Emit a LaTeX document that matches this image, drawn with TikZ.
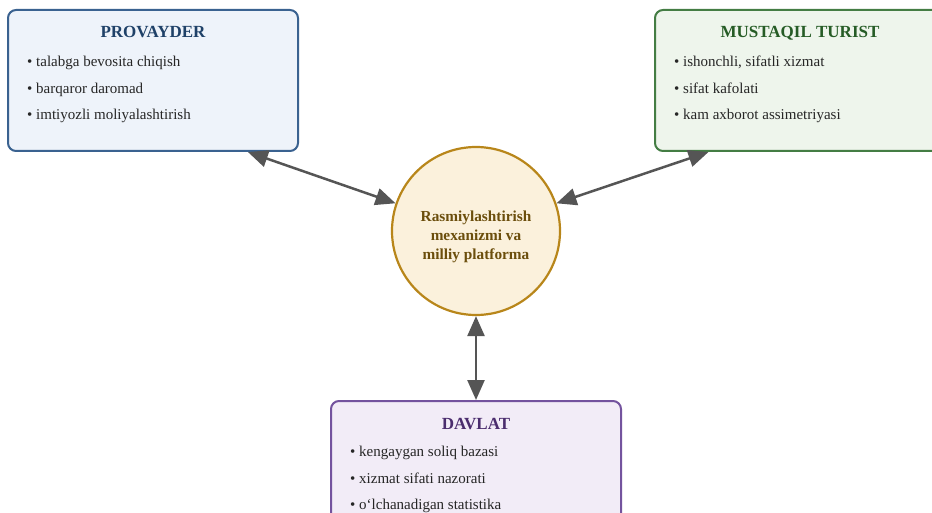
\documentclass[tikz,border=0pt]{standalone}
\usepackage{fontspec}
\setmainfont{Liberation Serif}
\usepackage{tikz}
\usepackage{xcolor}
\usetikzlibrary{arrows.meta,positioning}
\definecolor{provline}{HTML}{3A6290}
\definecolor{provfill}{HTML}{EEF3FA}
\definecolor{provtext}{HTML}{1F4168}
\definecolor{turline}{HTML}{447D44}
\definecolor{turfill}{HTML}{EEF5EC}
\definecolor{turtext}{HTML}{265C26}
\definecolor{davline}{HTML}{74539E}
\definecolor{davfill}{HTML}{F2ECF7}
\definecolor{davtext}{HTML}{4B2D6E}
\definecolor{hubline}{HTML}{B8861A}
\definecolor{hubfill}{HTML}{FBF1DC}
\definecolor{hubtext}{HTML}{6B4E0C}
\definecolor{linkgray}{HTML}{555555}
\tikzset{
    role-box/.style = {rectangle, rounded corners=8pt, line width=2pt, minimum width=290, minimum height=141, inner sep=0pt},
    role-title/.style = {anchor=base, inner sep=0pt, font=\fontsize{17}{19}\selectfont\bfseries},
    role-item/.style = {anchor=base west, inner sep=0pt, text=black!85, font=\fontsize{15}{17}\selectfont},
    hub/.style = {circle, draw=hubline, fill=hubfill, line width=2.2pt, minimum size=168, inner sep=0pt},
    hub-label/.style = {align=center, inner sep=0pt, text=hubtext, font=\fontsize{15.3}{19}\selectfont\bfseries},
    link/.style = {draw=linkgray, line width=2.5pt, {Triangle[length=20, width=17]}-{Triangle[length=20, width=17]}},
}
\begin{document}
\begin{tikzpicture}[x=1pt, y=-1pt]
\useasboundingbox (0,0) rectangle (932,513);
\clip (0,0) rectangle (932,513);

% markaz
\node[hub] (hub) at (476,231) {};
\node[hub-label] (hubt) at (476,237) {Rasmiylashtirish\\mexanizmi va\\milliy platforma};

% provayder
\node[role-box, draw=provline, fill=provfill] (prov) at (153,80.5) {};
\node[role-title, text=provtext] (provt) at (153,38) {PROVAYDER};
\node[role-item] (prov1) at (27,66.5) {• talabga bevosita chiqish};
\node[role-item] (prov2) at (27,93.5) {• barqaror daromad};
\node[role-item] (prov3) at (27,119.5) {• imtiyozli moliyalashtirish};

% mustaqil turist
\node[role-box, draw=turline, fill=turfill] (tur) at (800,80.5) {};
\node[role-title, text=turtext] (turt) at (800,38) {MUSTAQIL TURIST};
\node[role-item] (tur1) at (674,66.5) {• ishonchli, sifatli xizmat};
\node[role-item] (tur2) at (674,93.5) {• sifat kafolati};
\node[role-item] (tur3) at (674,119.5) {• kam axborot assimetriyasi};

% davlat
\node[role-box, draw=davline, fill=davfill] (dav) at (476,471.5) {};
\node[role-title, text=davtext] (davt) at (476,429) {DAVLAT};
\node[role-item] (dav1) at (350,456.5) {• kengaygan soliq bazasi};
\node[role-item] (dav2) at (350,483.5) {• xizmat sifati nazorati};
\node[role-item] (dav3) at (350,509.5) {• oʻlchanadigan statistika};

% bog'lanishlar
\draw[link] (prov.-37.5) -- (hub.161);
\draw[link] (tur.-142.5) -- (hub.19);
\draw[link] (dav.north) -- (hub.south);
\end{tikzpicture}
\end{document}
